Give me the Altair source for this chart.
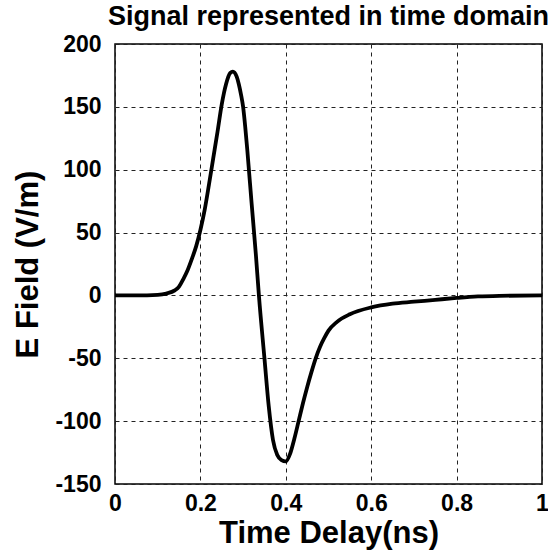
import altair as alt
import pandas as pd

t_ns = [0, 0.05, 0.1, 0.12, 0.14, 0.15, 0.16, 0.17, 0.18, 0.19, 0.2, 0.21, 0.22, 0.23,
        0.24, 0.25, 0.26, 0.27, 0.276, 0.285, 0.29, 0.295, 0.3, 0.305, 0.31, 0.32, 0.33,
        0.337, 0.35, 0.36, 0.37, 0.38, 0.39, 0.4, 0.41, 0.42, 0.43, 0.44, 0.45, 0.46,
        0.47, 0.48, 0.49, 0.5, 0.52, 0.55, 0.6, 0.65, 0.7, 0.75, 0.8, 0.85, 0.9, 1.0]
e_field = [0, 0, 0.5, 1.5, 4, 7, 13, 20, 29, 39, 52, 68, 88, 109,
           130, 152, 168, 177, 178, 174, 168, 160, 150, 134, 115, 73, 32,
           0, -50, -88, -115, -127, -131, -132, -126, -114, -100, -86, -73, -61,
           -50, -41, -34, -28, -21, -15, -9.5, -6.5, -5, -3.5, -2, -0.8, -0.3, 0]
x_ticks = [0, 0.2, 0.4, 0.6, 0.8, 1]
y_ticks = [-150, -100, -50, 0, 50, 100, 150, 200]

df = pd.DataFrame({"t": t_ns, "e": e_field})

FONT = "Liberation Sans"

common_axis = dict(
    labelFont=FONT, titleFont=FONT, labelFontSize=23, labelFontWeight="bold",
    labelColor="black", titleColor="black", grid=True, gridColor="#222",
    gridDash=[4, 4], gridWidth=1, ticks=False, domain=False, labelFlush=False,
    titleFontSize=31, titleFontWeight="bold", labelExpr="toString(datum.value)",
)

chart = alt.Chart(df).mark_line(color="black", strokeWidth=3.8, interpolate="monotone").encode(
    x=alt.X("t:Q", scale=alt.Scale(domain=[0, 1], nice=False),
            axis=alt.Axis(values=x_ticks, title="Time Delay(ns)",
                          titlePadding=3, labelPadding=8, **common_axis)),
    y=alt.Y("e:Q", scale=alt.Scale(domain=[-150, 200], nice=False),
            axis=alt.Axis(values=y_ticks, title="E Field (V/m)",
                          titlePadding=10, labelPadding=14, **common_axis)),
).properties(
    width=427, height=440,
    title=alt.TitleParams("Signal represented in time domain", fontSize=27,
                          font=FONT, fontWeight="bold", color="black", offset=2),
    autosize=alt.AutoSizeParams(type="none"),
    padding={"left": 115, "top": 44, "right": 6, "bottom": 70},
    background="white",
).configure_view(stroke="black", strokeWidth=1.5)

chart.save("out.html", embed_options={"renderer": "svg", "actions": False})
